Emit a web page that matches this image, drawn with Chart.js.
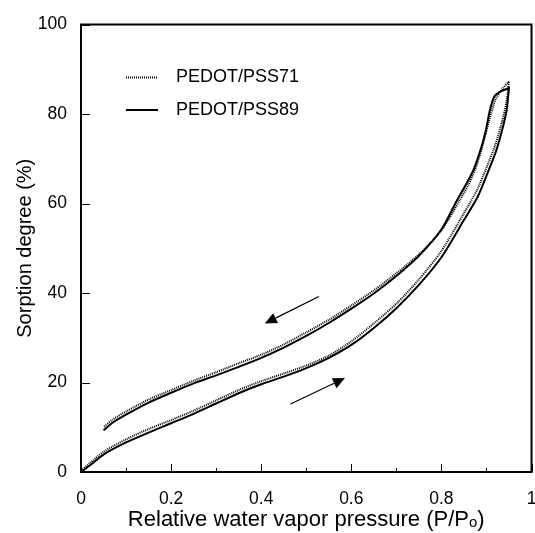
<!DOCTYPE html>
<html>
<head>
<meta charset="utf-8">
<script src="https://cdn.jsdelivr.net/npm/chart.js@4.4.0/dist/chart.umd.min.js"></script>
<style>
    html, body { margin: 0; padding: 0; background: #fff; }
    #wrap { width: 535px; height: 533px; }
</style>
</head>
<body>
<div id="wrap"><canvas id="sorptionChart" width="535" height="533"></canvas></div>
<script>
// Sorption isotherms (x = P/Po, y = sorption degree %)
const seriesNames = ['PEDOT/PSS71', 'PEDOT/PSS89'];

// PEDOT/PSS71 (dotted) - adsorption branch, then desorption branch
const adsX71 = [0, 0.02, 0.05, 0.1, 0.15, 0.2, 0.25, 0.3, 0.35, 0.4, 0.45, 0.5, 0.55, 0.6, 0.65, 0.7, 0.75, 0.8, 0.85, 0.88, 0.9, 0.92, 0.935, 0.945, 0.95];
const adsY71 = [0.3, 2.0, 4.5, 7.3, 9.6, 11.6, 13.7, 16.0, 18.3, 20.3, 22.0, 23.8, 26.0, 29.2, 33.2, 37.6, 43.0, 49.4, 57.8, 63.2, 68.0, 73.2, 78.5, 83.0, 87.3];
const desX71 = [0.95, 0.935, 0.92, 0.91, 0.9, 0.89, 0.875, 0.86, 0.84, 0.8, 0.75, 0.7, 0.65, 0.6, 0.55, 0.5, 0.45, 0.4, 0.35, 0.3, 0.25, 0.2, 0.15, 0.1, 0.07, 0.05];
const desY71 = [87.3, 85.6, 83.2, 80.0, 76.2, 72.4, 67.6, 64.2, 60.6, 54.0, 48.6, 44.4, 40.6, 37.2, 34.0, 31.2, 28.5, 26.2, 24.3, 22.3, 20.4, 18.3, 16.2, 13.5, 11.7, 10.0];

// PEDOT/PSS89 (solid)
const adsX89 = [0, 0.02, 0.05, 0.1, 0.15, 0.2, 0.25, 0.3, 0.35, 0.4, 0.45, 0.5, 0.55, 0.6, 0.65, 0.7, 0.75, 0.8, 0.85, 0.88, 0.9, 0.92, 0.935, 0.945, 0.95];
const adsY89 = [0, 1.5, 3.9, 6.6, 8.8, 10.9, 13.0, 15.3, 17.6, 19.6, 21.3, 23.2, 25.5, 28.4, 32.2, 36.6, 41.8, 48.0, 56.3, 61.4, 66.2, 71.3, 76.5, 81.0, 85.8];
const desX89 = [0.95, 0.935, 0.918, 0.908, 0.9, 0.89, 0.872, 0.857, 0.835, 0.8, 0.75, 0.7, 0.65, 0.6, 0.55, 0.5, 0.45, 0.4, 0.35, 0.3, 0.25, 0.2, 0.15, 0.1, 0.07, 0.05];
const desY89 = [85.8, 85.2, 84.0, 81.0, 77.0, 73.0, 67.7, 64.7, 60.8, 54.2, 48.3, 43.8, 39.9, 36.5, 33.3, 30.4, 27.8, 25.5, 23.5, 21.6, 19.8, 17.7, 15.5, 12.8, 11.0, 9.3];

// Direction arrows in data units: [xFrom, yFrom, xTo, yTo]
const arrowDesorption = [0.528, 39.2, 0.408, 33.2];
const arrowAdsorption = [0.465, 15.2, 0.586, 21.0];

const FONT = "'Liberation Sans', Arial, sans-serif";

const toPoints = (xs, ys) => xs.map((x, i) => ({ x: x, y: ys[i] }));
const loop = (ax, ay, dx, dy) => toPoints(ax, ay).concat(toPoints(dx, dy));

/**
 * Draws the boxed frame and inward-pointing tick marks (major + minor on x).
 */
const frameAndTicks = {
    id: 'frameAndTicks',
    afterDatasetsDraw(chart) {
        const { ctx, chartArea: a, scales } = chart;
        const xs = scales.x, ys = scales.y;
        ctx.save();
        ctx.strokeStyle = '#000';
        ctx.lineWidth = 1;
        ctx.beginPath();
        const xt = xs.ticks.map(t => t.value);
        xt.forEach((v, i) => {
            const px = Math.round(xs.getPixelForValue(v)) + 0.5;
            ctx.moveTo(px, a.bottom);
            ctx.lineTo(px, a.bottom - 8);
            if (i < xt.length - 1) {
                const mx = Math.round(xs.getPixelForValue((v + xt[i + 1]) / 2)) + 0.5;
                ctx.moveTo(mx, a.bottom);
                ctx.lineTo(mx, a.bottom - 4);
            }
        });
        ys.ticks.forEach(t => {
            const py = Math.round(ys.getPixelForValue(t.value)) + 0.5;
            ctx.moveTo(a.left, py);
            ctx.lineTo(a.left + 9, py);
        });
        ctx.stroke();
        ctx.lineWidth = 2;
        ctx.strokeRect(a.left, a.top, a.right - a.left, a.bottom - a.top);
        ctx.restore();
    }
};

/**
 * Draws the two direction arrows and the in-plot legend.
 */
const annotations = {
    id: 'annotations',
    afterDraw(chart) {
        const { ctx, chartArea: a, scales } = chart;
        ctx.save();
        [arrowDesorption, arrowAdsorption].forEach(arr => {
            const x1 = scales.x.getPixelForValue(arr[0]), y1 = scales.y.getPixelForValue(arr[1]);
            const x2 = scales.x.getPixelForValue(arr[2]), y2 = scales.y.getPixelForValue(arr[3]);
            const ang = Math.atan2(y2 - y1, x2 - x1);
            const len = 12, half = 5.5;
            const bx = x2 - len * Math.cos(ang), by = y2 - len * Math.sin(ang);
            ctx.strokeStyle = '#000';
            ctx.lineWidth = 1.2;
            ctx.beginPath();
            ctx.moveTo(x1, y1);
            ctx.lineTo(bx, by);
            ctx.stroke();
            ctx.fillStyle = '#000';
            ctx.beginPath();
            ctx.moveTo(x2, y2);
            ctx.lineTo(bx + half * Math.sin(ang), by - half * Math.cos(ang));
            ctx.lineTo(bx - half * Math.sin(ang), by + half * Math.cos(ang));
            ctx.closePath();
            ctx.fill();
        });

        // legend
        ctx.font = '18px ' + FONT;
        ctx.textBaseline = 'middle';
        chart.data.datasets.forEach((ds, i) => {
            const y = a.top + 53 + i * 32.5;
            const x0 = a.left + 45;
            ctx.strokeStyle = ds.borderColor;
            ctx.lineWidth = ds.borderWidth;
            ctx.setLineDash(ds.borderDash || []);
            ctx.beginPath();
            ctx.moveTo(x0, y);
            ctx.lineTo(x0 + 32, y);
            ctx.stroke();
            ctx.setLineDash([]);
            ctx.fillStyle = '#000';
            ctx.fillText(ds.label, x0 + 50, y);
        });
        ctx.restore();
    }
};

new Chart(document.getElementById('sorptionChart'), {
    type: 'line',
    data: {
        datasets: [
            {
                label: seriesNames[0],
                data: loop(adsX71, adsY71, desX71, desY71),
                borderColor: '#000',
                borderWidth: 2,
                borderDash: [1, 1],
                pointRadius: 0,
                tension: 0.25,
                fill: false
            },
            {
                label: seriesNames[1],
                data: loop(adsX89, adsY89, desX89, desY89),
                borderColor: '#000',
                borderWidth: 2,
                pointRadius: 0,
                tension: 0.25,
                fill: false
            }
        ]
    },
    options: {
        responsive: false,
        animation: false,
        devicePixelRatio: 1,
        layout: { padding: { top: 20, right: 3.5, left: 0, bottom: 0 } },
        plugins: {
            legend: { display: false },
            tooltip: { enabled: false }
        },
        scales: {
            x: {
                type: 'linear',
                min: 0,
                max: 1,
                grid: { display: false, drawTicks: false },
                border: { display: false },
                ticks: {
                    stepSize: 0.2,
                    padding: 17,
                    color: '#000',
                    font: { family: FONT, size: 17.5 },
                    callback: v => String(Number(v.toFixed(1)))
                },
                title: {
                    display: true,
                    text: 'Relative water vapor pressure (P/Pₒ)',
                    color: '#000',
                    padding: { top: 0, bottom: 0 },
                    font: { family: FONT, size: 22 }
                },
                afterFit(scale) {
                    scale.height = 61;
                    scale.paddingLeft = 0;
                    scale.paddingRight = 0;
                }
            },
            y: {
                min: 0,
                max: 100,
                grid: { display: false, drawTicks: false },
                border: { display: false },
                ticks: {
                    stepSize: 20,
                    padding: 14,
                    color: '#000',
                    font: { family: FONT, size: 17.5 }
                },
                title: {
                    display: true,
                    text: 'Sorption degree (%)',
                    color: '#000',
                    padding: { top: 13, bottom: 0 },
                    font: { family: FONT, size: 20 }
                },
                afterFit(scale) { scale.width = 81; }
            }
        }
    },
    plugins: [frameAndTicks, annotations]
});
</script>
</body>
</html>
